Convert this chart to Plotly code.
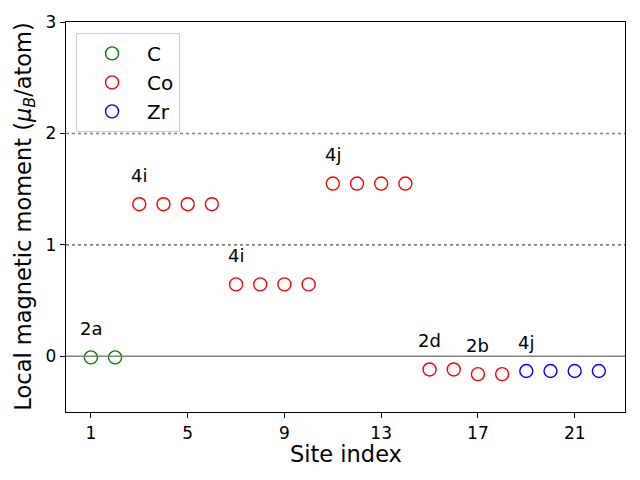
import plotly.graph_objects as go

site_C = [1, 2]
mom_C = [-0.01, -0.01]
site_Co = [3, 4, 5, 6, 7, 8, 9, 10, 11, 12, 13, 14, 15, 16, 17, 18]
mom_Co = [1.365, 1.365, 1.365, 1.365, 0.645, 0.645, 0.645, 0.645,
          1.55, 1.55, 1.55, 1.55, -0.118, -0.118, -0.16, -0.16]
site_Zr = [19, 20, 21, 22]
mom_Zr = [-0.132, -0.132, -0.132, -0.132]

wyckoff_labels = ["2a", "4i", "4i", "4j", "2d", "2b", "4j"]
wyckoff_x = [1, 3, 7, 11, 15, 17, 19]
wyckoff_y = [-0.01, 1.365, 0.645, 1.55, -0.118, -0.16, -0.132]

xticks = [1, 5, 9, 13, 17, 21]
yticks = [0, 1, 2, 3]

FONT = "DejaVu Sans"
fig = go.Figure()

for name, xs, ys, col in [("C", site_C, mom_C, "green"),
                          ("Co", site_Co, mom_Co, "red"),
                          ("Zr", site_Zr, mom_Zr, "blue")]:
    fig.add_trace(go.Scatter(x=xs, y=ys, mode="markers", name=name,
                             marker=dict(symbol="circle-open", size=13, color=col,
                                         line=dict(width=1.4, color=col))))

fig.add_hline(y=0, line=dict(color="gray", width=1.6))
fig.add_hline(y=1, line=dict(color="gray", width=1.6, dash="dot"))
fig.add_hline(y=2, line=dict(color="gray", width=1.6, dash="dot"))

for t, x, y in zip(wyckoff_labels, wyckoff_x, wyckoff_y):
    fig.add_annotation(x=x, y=y + 0.2, text=t, showarrow=False, xanchor="center",
                       yanchor="bottom", yshift=-6, font=dict(size=18, color="black", family=FONT))

# axis titles
fig.add_annotation(xref="paper", yref="paper", x=0.5, y=-0.108, yanchor="middle",
                   xanchor="center", text="Site index", showarrow=False,
                   font=dict(size=22.5, family=FONT, color="black"))
fig.add_annotation(xref="paper", yref="paper", x=-0.074, y=0.5, xanchor="center",
                   yanchor="middle", textangle=-90, showarrow=False,
                   text="Local magnetic moment (<i>μ<sub>B</sub></i>/atom)",
                   font=dict(size=22.5, family=FONT, color="black"))

fig.update_layout(
    width=640, height=480,
    margin=dict(l=58, r=23, t=14, b=76, autoexpand=False),
    plot_bgcolor="white", paper_bgcolor="white",
    font=dict(family=FONT, color="black"),
    showlegend=True,
    legend=dict(x=0.018, y=0.972, xanchor="left", yanchor="top",
                bgcolor="rgba(255,255,255,0.8)", bordercolor="#cccccc", borderwidth=1,
                font=dict(size=20, family=FONT), itemwidth=60, tracegroupgap=0),
    xaxis=dict(range=[-0.03, 23.08], tickvals=xticks, ticks="outside", ticklen=5,
               tickcolor="black", showgrid=False, zeroline=False, showline=True,
               linecolor="black", linewidth=1.3, mirror=True, automargin=False,
               tickfont=dict(size=17, family=FONT)),
    yaxis=dict(range=[-0.5, 3], tickvals=yticks, ticks="outside", ticklen=5,
               tickcolor="black", showgrid=False, zeroline=False, showline=True,
               linecolor="black", linewidth=1.3, mirror=True, automargin=False,
               tickfont=dict(size=17, family=FONT)),
)

fig.write_html("out.html")
